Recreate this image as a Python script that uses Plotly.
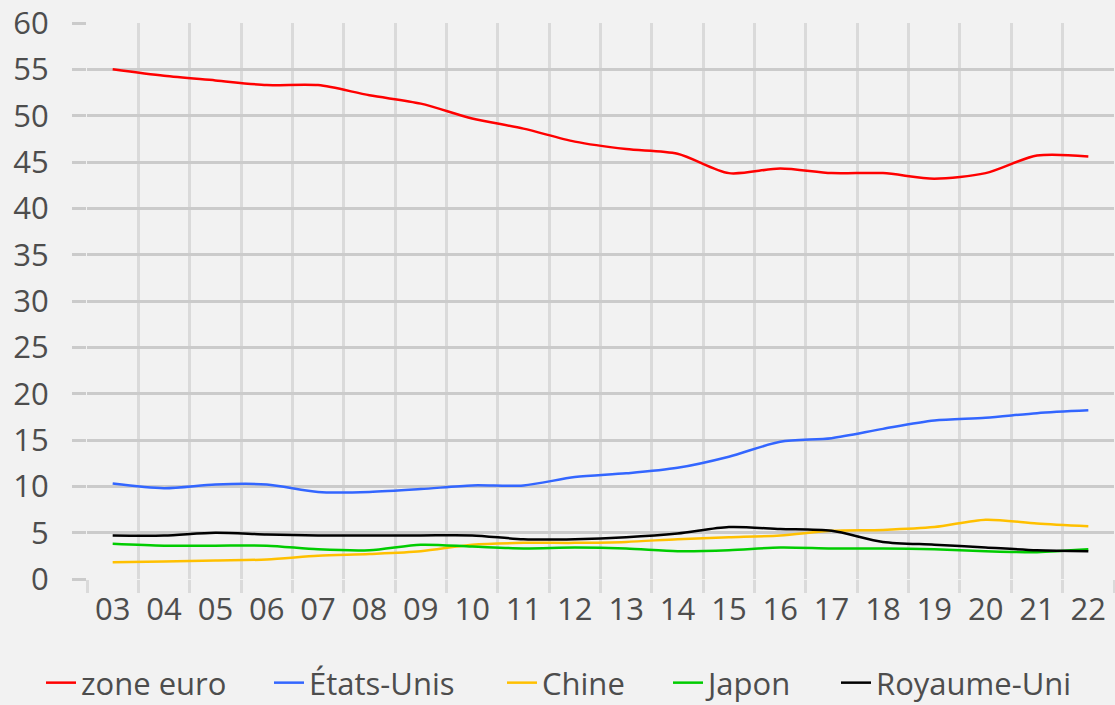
import plotly.graph_objects as go

years = ["03", "04", "05", "06", "07", "08", "09", "10", "11", "12",
         "13", "14", "15", "16", "17", "18", "19", "20", "21", "22"]

zone_euro = [55.0, 54.3, 53.8, 53.3, 53.3, 52.2, 51.3, 49.7, 48.6, 47.2,
             46.4, 45.9, 43.8, 44.3, 43.8, 43.8, 43.2, 43.8, 45.7, 45.6]
etats_unis = [10.3, 9.8, 10.2, 10.2, 9.4, 9.4, 9.7, 10.1, 10.1, 11.0,
              11.4, 12.0, 13.2, 14.8, 15.2, 16.2, 17.1, 17.4, 17.9, 18.2]
chine = [1.8, 1.9, 2.0, 2.1, 2.5, 2.7, 3.0, 3.7, 3.9, 3.9,
         4.0, 4.3, 4.5, 4.7, 5.2, 5.3, 5.6, 6.4, 6.0, 5.7]
japon = [3.8, 3.6, 3.6, 3.6, 3.2, 3.1, 3.7, 3.5, 3.3, 3.4,
         3.3, 3.0, 3.1, 3.4, 3.3, 3.3, 3.2, 3.0, 2.9, 3.2]
royaume_uni = [4.7, 4.7, 5.0, 4.8, 4.7, 4.7, 4.7, 4.7, 4.3, 4.3,
               4.5, 4.9, 5.6, 5.4, 5.2, 4.0, 3.7, 3.4, 3.1, 3.0]

series = [
    ("zone euro", zone_euro, "#ff0000"),
    ("États-Unis", etats_unis, "#3366ff"),
    ("Chine", chine, "#ffc000"),
    ("Japon", japon, "#00cc00"),
    ("Royaume-Uni", royaume_uni, "#000000"),
]
# left edge (px) of each legend entry
legend_x = [41, 269, 502, 668, 836]

BG = "#f2f2f2"
TXT = "#4d4d4d"
FONT = "Open Sans"

fig = go.Figure()
for i, (name, values, color) in enumerate(series):
    leg = "legend" if i == 0 else f"legend{i + 1}"
    fig.add_trace(
        go.Scatter(
            x=years,
            y=values,
            name=name,
            mode="lines",
            line=dict(color=color, width=2.5, shape="spline", smoothing=0.8),
            legend=leg,
        )
    )

legend_style = dict(
    orientation="h",
    xref="container",
    yref="container",
    yanchor="middle",
    xanchor="left",
    y=(705 - 683) / 705,
    bgcolor="rgba(0,0,0,0)",
    font=dict(family=FONT, size=31, color=TXT),
    itemwidth=30,
)
legends = {}
for i, lx in enumerate(legend_x):
    key = "legend" if i == 0 else f"legend{i + 1}"
    legends[key] = dict(legend_style, x=lx / 1115)

fig.update_layout(
    width=1115,
    height=705,
    margin=dict(l=87, r=1, t=23, b=126),
    paper_bgcolor=BG,
    plot_bgcolor=BG,
    font=dict(family=FONT, size=31, color=TXT),
    showlegend=True,
    xaxis=dict(
        type="category",
        tickson="boundaries",
        showgrid=True,
        gridcolor="#dadada",
        gridwidth=3,
        ticks="outside",
        ticklen=13,
        tickwidth=3,
        tickcolor="#dadada",
        ticklabelstandoff=9,
        zeroline=False,
        showline=False,
        range=[-0.5, 19.5],
        tickfont=dict(family=FONT, size=31, color=TXT),
    ),
    yaxis=dict(
        range=[0, 60],
        dtick=5,
        showgrid=True,
        gridcolor="#cbcbcb",
        gridwidth=2.5,
        ticks="outside",
        ticklen=14,
        tickwidth=2.5,
        tickcolor="#cbcbcb",
        ticklabelstandoff=17,
        zeroline=False,
        showline=False,
        tickfont=dict(family=FONT, size=31, color=TXT),
    ),
    **legends,
)

fig.write_html(
    "out.html",
    config={"displayModeBar": False},
    post_script="document.body.style.margin='0';document.body.style.background='#f2f2f2';",
)
